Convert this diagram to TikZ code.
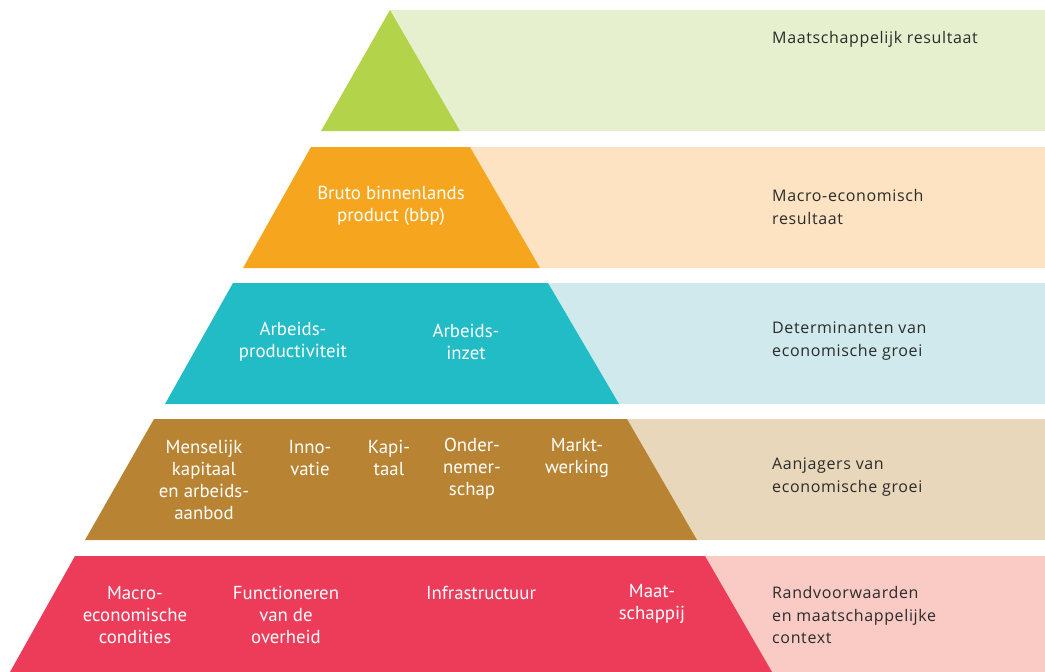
\documentclass[tikz,border=0pt]{standalone}
\usepackage{fontspec}
\setmainfont{Open Sans}
\newfontfamily\pyrfont{PT Sans}
\newfontfamily\sidefont[LetterSpace=4]{Open Sans}
\definecolor{gDark}{HTML}{B2D34A}
\definecolor{gLight}{HTML}{E6F0CF}
\definecolor{oDark}{HTML}{F6A61E}
\definecolor{oLight}{HTML}{FDE3C2}
\definecolor{cDark}{HTML}{22BCC7}
\definecolor{cLight}{HTML}{CFE9EC}
\definecolor{bDark}{HTML}{B88433}
\definecolor{bLight}{HTML}{E8D7BA}
\definecolor{rDark}{HTML}{EC3C59}
\definecolor{rLight}{HTML}{F9CBC4}
\definecolor{sideText}{HTML}{2B2B2B}
\tikzset{
  pyr/.style={text=white, align=center, inner sep=0pt, font=\pyrfont\fontsize{18.8}{22}\selectfont},
  side/.style={text=sideText, align=left, anchor=west, inner sep=0pt, font=\sidefont\fontsize{16}{22.5}\selectfont}
}
\begin{document}
\begin{tikzpicture}[x=1pt,y=-1pt]
\useasboundingbox (0,0) rectangle (1045,672);
% band 1
\fill[gLight] (390,10) rectangle (1045,131);
\fill[gDark] (390,10) -- (460,131) -- (321,131) -- cycle;
% band 2
\fill[oLight] (470,147) rectangle (1045,268);
\fill[oDark] (311,147) -- (470,147) -- (540,268) -- (243,268) -- cycle;
% band 3
\fill[cLight] (548,283) rectangle (1045,404);
\fill[cDark] (233,283) -- (548,283) -- (619,404) -- (165,404) -- cycle;
% band 4
\fill[bLight] (627,419) rectangle (1045,540);
\fill[bDark] (154,419) -- (627,419) -- (697,540) -- (85,540) -- cycle;
% band 5
\fill[rLight] (705,556) rectangle (1045,672);
\fill[rDark] (75,556) -- (705,556) -- (772,672) -- (10,672) -- cycle;

% side labels
\node[side] (s1) at (772,39) {Maatschappelijk resultaat};
\node[side] (s2) at (772,207) {Macro-economisch\\resultaat};
\node[side] (s3) at (772,341) {Determinanten van\\economische groei};
\node[side] (s4) at (772,477) {Aanjagers van\\economische groei};
\node[side] (s5) at (772,615) {Randvoorwaarden\\en maatschappelijke\\context};

% pyramid labels
\node[pyr] (p2) at (391,206) {Bruto binnenlands\\product (bbp)};
\node[pyr] (p3a) at (293,342) {Arbeids-\\productiviteit};
\node[pyr] (p3b) at (466,342) {Arbeids-\\inzet};
\node[pyr] (p4a) at (204,480) {Menselijk\\kapitaal\\en arbeids-\\aanbod};
\node[pyr] (p4b) at (310,458) {Inno-\\vatie};
\node[pyr] (p4c) at (389,458) {Kapi-\\taal};
\node[pyr] (p4d) at (472,469) {Onder-\\nemer-\\schap};
\node[pyr] (p4e) at (577,458) {Markt-\\werking};
\node[pyr] (p5a) at (135,615) {Macro-\\economische\\condities};
\node[pyr] (p5b) at (286,615) {Functioneren\\van de\\overheid};
\node[pyr] (p5c) at (481,593) {Infrastructuur};
\node[pyr] (p5d) at (652,604) {Maat-\\schappij};
\end{tikzpicture}
\end{document}
